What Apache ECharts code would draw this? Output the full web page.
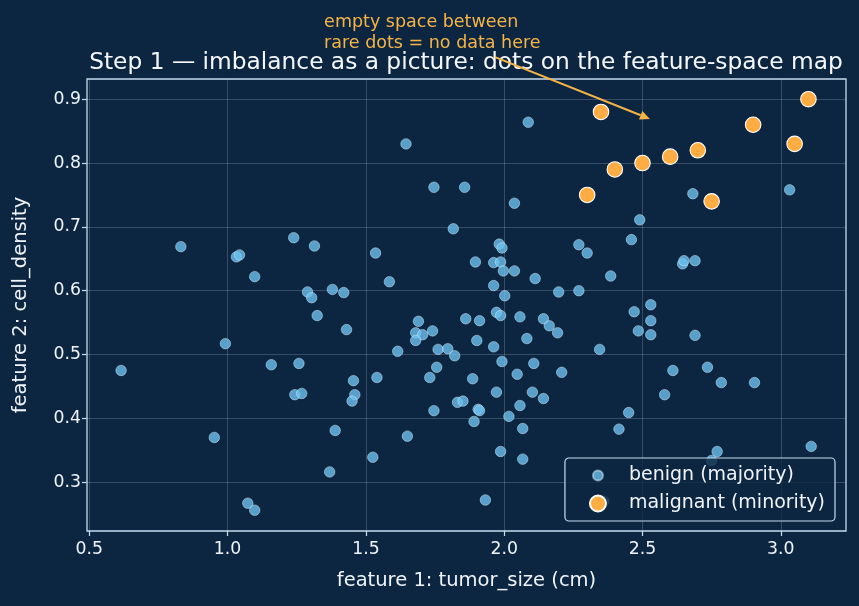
<!DOCTYPE html>
<html>
<head>
<meta charset="utf-8">
<title>imbalance scatter</title>
<script src="https://cdn.jsdelivr.net/npm/echarts@6/dist/echarts.min.js"></script>
<style>
	html, body { margin: 0; padding: 0; background: #0c2641; }
	#chart { width: 859px; height: 606px; }
</style>
</head>
<body>
<div id="chart"></div>
<script>
// benign (majority) points
var benignX = [2.087,1.645,1.746,1.857,1.816,2.037,2.682,3.032,2.49,2.46,2.27,2.3,1.982,1.992,1.896,1.962,1.987,1.997,2.037,2.112,
	1.962,2.002,2.197,2.27,2.385,2.645,2.65,2.69,1.861,1.911,1.972,1.987,2.057,2.142,2.163,2.193,2.082,1.901,2.47,2.53,
	2.53,2.485,2.53,2.69,0.831,1.032,1.043,1.098,1.239,1.314,1.535,1.585,1.289,1.304,1.379,1.42,1.324,1.43,1.69,1.68,
	1.705,1.741,1.68,0.992,0.615,1.158,1.258,1.243,1.268,0.952,1.073,1.098,1.389,1.369,1.455,1.46,1.45,1.54,1.525,1.65,
	1.615,1.761,1.796,1.821,1.756,1.731,1.886,1.831,1.851,1.746,1.891,1.906,1.911,1.962,1.992,2.107,2.047,2.208,1.972,2.102,
	2.142,2.057,2.017,2.067,1.987,2.067,1.932,2.345,2.61,2.735,2.785,2.905,2.58,2.45,2.415,2.77,2.75,3.11,2.36];
var benignY = [0.864,0.83,0.762,0.762,0.697,0.737,0.752,0.758,0.711,0.68,0.672,0.659,0.673,0.667,0.645,0.644,0.645,0.631,0.631,0.619,
	0.608,0.592,0.598,0.6,0.623,0.642,0.647,0.647,0.556,0.553,0.566,0.561,0.559,0.556,0.545,0.534,0.525,0.522,0.567,0.578,
	0.553,0.537,0.531,0.53,0.669,0.653,0.656,0.622,0.683,0.67,0.659,0.614,0.598,0.589,0.602,0.597,0.561,0.539,0.552,0.534,
	0.531,0.537,0.522,0.517,0.475,0.484,0.486,0.437,0.439,0.37,0.267,0.256,0.381,0.316,0.459,0.437,0.427,0.464,0.339,0.372,
	0.505,0.508,0.509,0.498,0.48,0.464,0.462,0.425,0.427,0.412,0.395,0.414,0.412,0.512,0.489,0.486,0.469,0.472,0.441,0.441,
	0.431,0.42,0.403,0.384,0.348,0.336,0.272,0.508,0.475,0.48,0.456,0.456,0.437,0.409,0.383,0.348,0.334,0.356,0.27];
// malignant (minority) points
var malignantX = [2.35,3.1,2.9,2.4,2.5,2.6,2.7,3.05,2.3,2.75];
var malignantY = [0.88,0.9,0.86,0.79,0.8,0.81,0.82,0.83,0.75,0.74];
// tick labels
var xTicks = [0.5,1.0,1.5,2.0,2.5,3.0];
var yTicks = [0.3,0.4,0.5,0.6,0.7,0.8,0.9];
var seriesNames = ['benign (majority)','malignant (minority)'];
var annoLines = ['empty space between','rare dots = no data here'];
// annotation anchors in data units
var annoTextAt = [1.349,1.036];
var arrowFrom = [1.967,0.966];
var arrowTo = [2.527,0.869];

var font = 'DejaVu Sans';
var lineCol = '#c6dbef';
var txtCol = '#eef4fa';

function pairs(xs,ys){
	var out = [];
	for(var i=0;i<xs.length;i++){ out.push([xs[i],ys[i]]); }
	return out;
}

var myChart = echarts.init(document.getElementById('chart'));
var option = {
	backgroundColor: '#0c2641',
	animation: false,
	title: {
		text: 'Step 1 — imbalance as a picture: dots on the feature-space map',
		left: 461,
		top: 46,
		textAlign: 'center',
		textStyle: { color: '#f4f8fc', fontFamily: font, fontSize: 23.3, fontWeight: 'normal' }
	},
	grid: { left: 87, right: 13, top: 79, bottom: 75, show: true, borderColor: lineCol, borderWidth: 1.3, backgroundColor: 'transparent' },
	legend: {
		orient: 'vertical',
		right: 24,
		bottom: 85,
		data: [
			{ name: seriesNames[0], icon: 'path://M0,0 M16,16 M13,8 A5,5 0 1,1 3,8 A5,5 0 1,1 13,8 Z' },
			{ name: seriesNames[1], icon: 'circle' }
		],
		itemWidth: 52,
		itemHeight: 16,
		itemGap: 9,
		padding: [8, 10, 8, 24],
		backgroundColor: 'rgba(12,38,65,0.8)',
		borderColor: lineCol,
		borderWidth: 1.2,
		borderRadius: 4,
		textStyle: { color: txtCol, fontFamily: font, fontSize: 19, lineHeight: 18 }
	},
	xAxis: {
		type: 'value',
		min: 0.4917,
		max: 3.2358,
		name: 'feature 1: tumor_size (cm)',
		nameLocation: 'middle',
		nameGap: 40,
		nameTextStyle: { color: txtCol, fontFamily: font, fontSize: 19.5 },
		axisLine: { show: false },
		axisTick: { show: true, inside: false, length: 5, customValues: xTicks, lineStyle: { color: lineCol, width: 1.2 } },
		axisLabel: { customValues: xTicks, color: txtCol, fontFamily: font, fontSize: 17.3, margin: 10,
			formatter: function(v){ return v.toFixed(1); } },
		splitLine: { show: true, lineStyle: { color: 'rgba(200,220,240,0.22)', width: 1 } }
	},
	yAxis: {
		type: 'value',
		min: 0.2234,
		max: 0.9317,
		name: 'feature 2: cell_density',
		nameLocation: 'middle',
		nameGap: 56,
		nameTextStyle: { color: txtCol, fontFamily: font, fontSize: 19.5 },
		axisLine: { show: false },
		axisTick: { show: true, inside: false, length: 5, customValues: yTicks, lineStyle: { color: lineCol, width: 1.2 } },
		axisLabel: { customValues: yTicks, color: txtCol, fontFamily: font, fontSize: 17.3, margin: 6,
			formatter: function(v){ return v.toFixed(1); } },
		splitLine: { show: true, lineStyle: { color: 'rgba(200,220,240,0.22)', width: 1 } }
	},
	series: [{
		name: seriesNames[0],
		type: 'scatter',
		symbolSize: 10.5,
		data: pairs(benignX, benignY),
		itemStyle: { color: 'rgba(110,195,240,0.78)', borderColor: 'rgba(210,235,252,0.55)', borderWidth: 0.9, opacity: 1 },
		z: 2
	}, {
		name: seriesNames[1],
		type: 'scatter',
		symbolSize: 15.5,
		data: pairs(malignantX, malignantY),
		itemStyle: { color: '#ffad42', borderColor: '#ffffff', borderWidth: 1.1, opacity: 1 },
		z: 3
	}]
};
myChart.setOption(option);

// annotation: text + arrow placed through the axes
var p0 = myChart.convertToPixel({gridIndex: 0}, arrowFrom);
var p1 = myChart.convertToPixel({gridIndex: 0}, arrowTo);
var pt = myChart.convertToPixel({gridIndex: 0}, annoTextAt);
var dx = p1[0]-p0[0], dy = p1[1]-p0[1], len = Math.sqrt(dx*dx+dy*dy);
var ux = dx/len, uy = dy/len, hl = 10, hw = 4.5;
var bx = p1[0]-ux*hl, by = p1[1]-uy*hl;
var annoCol = '#f5b447';
myChart.setOption({
	graphic: [{
		type: 'text',
		left: pt[0],
		top: pt[1],
		z: 10,
		style: { text: annoLines.join('\n'), fill: annoCol, font: '17.5px "DejaVu Sans"', lineHeight: 21 }
	}, {
		type: 'line',
		z: 10,
		shape: { x1: p0[0], y1: p0[1], x2: bx, y2: by },
		style: { stroke: annoCol, lineWidth: 2 }
	}, {
		type: 'polygon',
		z: 10,
		shape: { points: [[p1[0],p1[1]],[bx-uy*hw,by+ux*hw],[bx+uy*hw,by-ux*hw]] },
		style: { fill: annoCol }
	}]
});
</script>
</body>
</html>
